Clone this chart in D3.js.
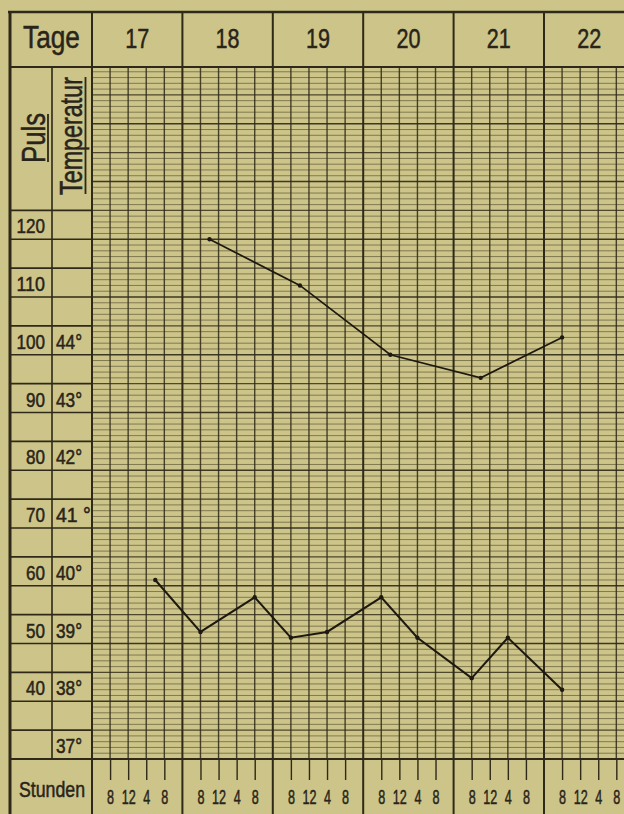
<!DOCTYPE html>
<html>
  <head>
    <meta charset="UTF-8">
    <title>Fieberkurve</title>
    <script src="https://d3js.org/d3.v7.min.js"></script>
    <style>
      body { margin: 0; background: #ccc488; }
      svg { display: block; }
      svg text {
        font-family: "Liberation Sans", "DejaVu Sans", sans-serif;
        fill: #29241a;
        stroke: #29241a;
        stroke-width: 0.5px;
      }
    </style>
  </head>
  <body>
    <svg id="chart"></svg>
    <script>
      // Daten der Kurve
      const days = [17, 18, 19, 20, 21, 22];
      const hourLabels = ["8", "12", "4", "8"];
      const pulsTicks = [120, 110, 100, 90, 80, 70, 60, 50, 40];
      const tempTicks = [44, 43, 42, 41, 40, 39, 38, 37];
      const tempLabels = ["44°", "43°", "42°", "41 °", "40°", "39°", "38°", "37°"];

      // Temperatur (Tag, Stunde, Grad)
      const tempDay = [17, 18, 18, 19, 19, 20, 20, 21, 21, 22];
      const tempHour = [18, 8, 20, 8, 16, 8, 16, 8, 16, 8];
      const tempValue = [40.1, 39.2, 39.8, 39.1, 39.2, 39.8, 39.1, 38.4, 39.1, 38.2];

      // Puls (Tag, Stunde, Schlaege)
      const pulsDay = [18, 19, 20, 21, 22];
      const pulsHour = [10, 10, 10, 10, 8];
      const pulsValue = [120, 112, 100, 96, 103];

      const width = 624;
      const height = 814;
      const ink = "#2e2918";

      const svg = d3.select("#chart")
        .attr("width", width)
        .attr("height", height);

      // Zeit: Tag + Stunde (4 Uhr = Tagesanfang, 5 Spalten je Tag)
      const t = (day, hour) => day + (hour - 4) / 20;
      const x = d3.scaleLinear().domain([17, 23]).range([92, 634.4]);
      const yPuls = d3.scaleLinear().domain([30, 150]).range([759, 66]);
      const yTemp = d3.scaleLinear().domain([37, 49]).range([759, 66]);

      const gridTop = 67, gridBottom = 759;

      // horizontale Linien (1/10 Grad)
      const grid = svg.append("g");
      grid.selectAll(".h")
        .data(d3.range(1, 120))
        .enter()
        .append("line")
        .attr("x1", x(17)).attr("x2", width)
        .attr("y1", d => yTemp(37 + d / 10))
        .attr("y2", d => yTemp(37 + d / 10))
        .attr("stroke", ink)
        .attr("stroke-width", d => d % 10 === 0 ? 1.4 : (d % 5 === 0 ? 1.1 : 0.8))
        .attr("stroke-opacity", d => d % 10 === 0 ? 0.9 : (d % 5 === 0 ? 0.8 : 0.6));

      // vertikale Linien (Stunden)
      const cols = [];
      days.forEach(d => { for (let k = 1; k < 5; k++) cols.push(d + k / 5); });
      grid.selectAll(".v")
        .data(cols)
        .enter()
        .append("line")
        .attr("x1", d => x(d)).attr("x2", d => x(d))
        .attr("y1", gridTop).attr("y2", gridBottom)
        .attr("stroke", ink)
        .attr("stroke-width", 1.4)
        .attr("stroke-opacity", 0.85);

      // Tagesgrenzen
      svg.selectAll(".day")
        .data(days.concat([23]))
        .enter()
        .append("line")
        .attr("x1", d => x(d)).attr("x2", d => x(d))
        .attr("y1", 12).attr("y2", height)
        .attr("stroke", ink)
        .attr("stroke-width", 2);

      // Rahmen
      const frame = svg.append("g").attr("stroke", ink).attr("fill", "none");
      frame.append("line").attr("x1", 8).attr("x2", width).attr("y1", 12).attr("y2", 12).attr("stroke-width", 2.5);
      frame.append("line").attr("x1", 10).attr("x2", 10).attr("y1", 11).attr("y2", height).attr("stroke-width", 3);
      frame.append("line").attr("x1", 10).attr("x2", width).attr("y1", gridTop).attr("y2", gridTop).attr("stroke-width", 2);
      frame.append("line").attr("x1", 10).attr("x2", width).attr("y1", gridBottom).attr("y2", gridBottom).attr("stroke-width", 2);
      frame.append("line").attr("x1", 52).attr("x2", 52).attr("y1", gridTop).attr("y2", gridBottom).attr("stroke-width", 1.6);

      // Zeilen der linken Spalten (alle 5 Pulsschlaege)
      frame.selectAll(".row")
        .data(d3.range(35, 130, 5))
        .enter()
        .append("line")
        .attr("x1", 10).attr("x2", x(17))
        .attr("y1", d => yPuls(d)).attr("y2", d => yPuls(d))
        .attr("stroke-width", 1.6);

      // Kopfzeile
      svg.append("text")
        .attr("x", 23).attr("y", 48)
        .attr("font-size", 31)
        .attr("textLength", 57).attr("lengthAdjust", "spacingAndGlyphs")
        .text("Tage");

      svg.selectAll(".dayLabel")
        .data(days)
        .enter()
        .append("text")
        .attr("x", d => x(d + 0.5))
        .attr("y", 48)
        .attr("text-anchor", "middle")
        .attr("font-size", 27)
        .attr("textLength", 24).attr("lengthAdjust", "spacingAndGlyphs")
        .text(d => d);

      // Puls / Temperatur
      svg.append("text")
        .attr("transform", "translate(45,138) rotate(-90)")
        .attr("text-anchor", "middle")
        .attr("font-size", 34)
        .attr("textLength", 50).attr("lengthAdjust", "spacingAndGlyphs")
        .text("Puls");
      svg.append("line").attr("x1", 48).attr("x2", 48).attr("y1", 114).attr("y2", 162)
        .attr("stroke", ink).attr("stroke-width", 1.8);

      svg.append("text")
        .attr("transform", "translate(82,136) rotate(-90)")
        .attr("text-anchor", "middle")
        .attr("font-size", 31)
        .attr("textLength", 118).attr("lengthAdjust", "spacingAndGlyphs")
        .text("Temperatur");
      svg.append("line").attr("x1", 85.5).attr("x2", 85.5).attr("y1", 77).attr("y2", 194)
        .attr("stroke", ink).attr("stroke-width", 1.8);

      svg.selectAll(".pulsLabel")
        .data(pulsTicks)
        .enter()
        .append("text")
        .attr("x", 45)
        .attr("y", d => yPuls(d) - 6)
        .attr("text-anchor", "end")
        .attr("font-size", 20)
        .attr("textLength", d => String(d).length * 9.5)
        .attr("lengthAdjust", "spacingAndGlyphs")
        .text(d => d);

      svg.selectAll(".tempLabel")
        .data(tempTicks)
        .enter()
        .append("text")
        .attr("x", 56)
        .attr("y", d => yTemp(d) - 6)
        .attr("font-size", 20)
        .attr("textLength", (d, i) => tempLabels[i].length * 8.7)
        .attr("lengthAdjust", "spacingAndGlyphs")
        .text((d, i) => tempLabels[i]);

      // Stunden
      svg.append("text")
        .attr("x", 19).attr("y", 797)
        .attr("font-size", 22)
        .attr("textLength", 66).attr("lengthAdjust", "spacingAndGlyphs")
        .text("Stunden");

      const hourAxis = d3.axisBottom(x)
        .tickValues(cols)
        .tickSize(21)
        .tickFormat((d, i) => hourLabels[i % 4]);

      const ha = svg.append("g")
        .attr("transform", `translate(0,${gridBottom})`)
        .call(hourAxis);
      ha.select(".domain").remove();
      ha.selectAll(".tick line").attr("stroke", ink).attr("stroke-width", 1.4);
      ha.selectAll(".tick text")
        .attr("y", 45).attr("dy", 0)
        .attr("font-size", 20)
        .attr("fill", ink)
        .attr("textLength", (d, i) => hourLabels[i % 4].length * 7)
        .attr("lengthAdjust", "spacingAndGlyphs");

      // Kurven
      const tempData = tempValue.map((v, i) => ({ t: t(tempDay[i], tempHour[i]), v }));
      const pulsData = pulsValue.map((v, i) => ({ t: t(pulsDay[i], pulsHour[i]), v }));

      const lineTemp = d3.line().x(d => x(d.t)).y(d => yTemp(d.v));
      const linePuls = d3.line().x(d => x(d.t)).y(d => yPuls(d.v));

      svg.append("path")
        .datum(tempData)
        .attr("d", lineTemp)
        .attr("fill", "none")
        .attr("stroke", "#1d1910")
        .attr("stroke-width", 2);

      svg.append("path")
        .datum(pulsData)
        .attr("d", linePuls)
        .attr("fill", "none")
        .attr("stroke", "#1d1910")
        .attr("stroke-width", 1.7);

      svg.selectAll(".tdot")
        .data(tempData)
        .enter()
        .append("circle")
        .attr("cx", d => x(d.t)).attr("cy", d => yTemp(d.v))
        .attr("r", 2.2).attr("fill", "#1d1910");

      svg.selectAll(".pdot")
        .data(pulsData)
        .enter()
        .append("circle")
        .attr("cx", d => x(d.t)).attr("cy", d => yPuls(d.v))
        .attr("r", 2.2).attr("fill", "#1d1910");
    </script>
  </body>
</html>
